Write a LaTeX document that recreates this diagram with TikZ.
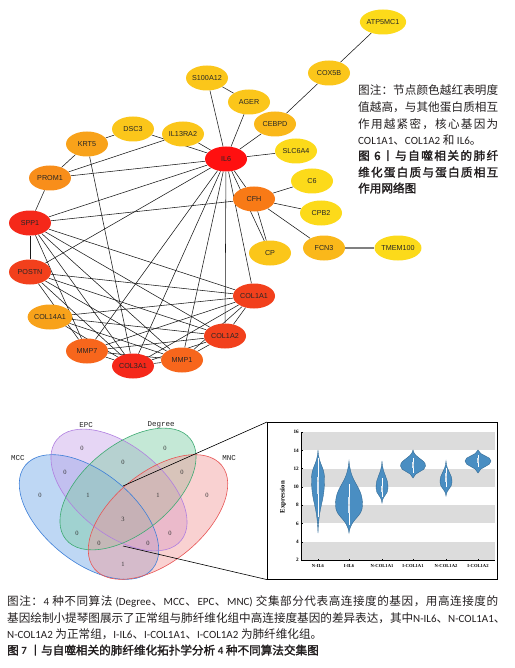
\documentclass[tikz,border=0pt]{standalone}
\usepackage{fontspec}
\usetikzlibrary{shapes.geometric}
\setmainfont{Liberation Sans}
\newfontfamily\cjk{Noto Sans CJK SC}[AutoFakeBold=2]
\newfontfamily\calfont{Carlito}
\newfontfamily\tnr{Liberation Serif}
\newfontfamily\vmono{Liberation Mono}
\definecolor{txt}{HTML}{231F20}
\definecolor{cA}{HTML}{FF1010}
\definecolor{cB}{HTML}{F5281A}
\definecolor{cC}{HTML}{F2401C}
\definecolor{cD}{HTML}{F7661C}
\definecolor{cE}{HTML}{F87A16}
\definecolor{cF}{HTML}{F88E1A}
\definecolor{cG}{HTML}{F8A21A}
\definecolor{cH}{HTML}{FAB81A}
\definecolor{cI}{HTML}{FBC61A}
\definecolor{cJ}{HTML}{FCDA1A}
\definecolor{mccF}{HTML}{6FA8E8}\definecolor{mccD}{HTML}{3D7FD8}
\definecolor{epcF}{HTML}{C9A6EA}\definecolor{epcD}{HTML}{B07FE0}
\definecolor{degF}{HTML}{7DCCA5}\definecolor{degD}{HTML}{3DAA72}
\definecolor{mncF}{HTML}{F29A9A}\definecolor{mncD}{HTML}{E85555}
\definecolor{vfill}{HTML}{4A8EC2}
\definecolor{vline}{HTML}{2E6690}
\definecolor{band}{HTML}{DCDCDC}
\pgfdeclarelayer{bg}
\pgfsetlayers{bg,main}
\makeatletter
\newcommand\jline[2]{\hbox to #1{\jl@first#2\relax}}
\def\jl@first#1{#1\jl@next}
\def\jl@next#1{\ifx\relax#1\else\hfil#1\expandafter\jl@next\fi}
\makeatother
\newcommand\lat[1]{{\calfont\fontsize{11}{12}\selectfont #1}}
\newcommand\violin[5]{%
  \filldraw[fill=vfill, draw=vline, line width=0.35pt]
   (#1,#2) .. controls ({#1+0.15*#5},{#2+0.55*(#3-#2)}) and ({#1+#5},{#3-0.45*(#3-#2)}) .. ({#1+#5},#3)
   .. controls ({#1+#5},{#3+0.45*(#4-#3)}) and ({#1+0.15*#5},{#4-0.55*(#4-#3)}) .. (#1,#4)
   .. controls ({#1-0.15*#5},{#4-0.55*(#4-#3)}) and ({#1-#5},{#3+0.45*(#4-#3)}) .. ({#1-#5},#3)
   .. controls ({#1-#5},{#3-0.45*(#3-#2)}) and ({#1-0.15*#5},{#2+0.55*(#3-#2)}) .. cycle;}
\newcommand\vinner[6]{%
  \draw[white, line width=0.5pt] (#1,#2) -- (#1,#3);
  \fill[white!80!vfill] ({#1-1.4},#5) rectangle ({#1+1.4},#4);
  \fill[gray!70] (#1,#6) circle (0.7);}
\begin{document}
\begin{tikzpicture}[x=1pt,y=-1pt,
  gene/.style={ellipse, minimum width=42pt, minimum height=25pt, inner sep=0pt,
    font=\fontsize{7.2}{8}\selectfont, text=black!85},
  edge/.style={line width=0.55pt, black!90},
  vnum/.style={font=\tnr\fontsize{6.5}{7}\selectfont, text=black!80},
  vlab/.style={font=\vmono\fontsize{7.5}{8}\selectfont, text=black!85},
  captext/.style={inner sep=0pt, anchor=base west, text=txt, font=\cjk\fontsize{11.6}{14}\selectfont},
  capbold/.style={captext, font=\cjk\bfseries\fontsize{11.6}{14}\selectfont},
  ticklab/.style={font=\tnr\bfseries\fontsize{4.6}{5}\selectfont, inner sep=0.5pt},
  ylab/.style={font=\tnr\bfseries\fontsize{5.2}{6}\selectfont, inner sep=0.5pt}]
\begin{pgfonlayer}{bg}
\fill[white] (0,0) rectangle (514,668);
\end{pgfonlayer}
\useasboundingbox (0,0) rectangle (514,668);

% ---------------- network nodes
\node[gene, fill=cJ] (atp) at (383,22) {ATP5MC1};
\node[gene, fill=cI] (cox) at (329,73) {COX5B};
\node[gene, fill=cI] (s100) at (207,78) {S100A12};
\node[gene, fill=cI] (ager) at (249,102) {AGER};
\node[gene, fill=cH] (cebpd) at (275,124) {CEBPD};
\node[gene, fill=cI] (il13) at (183,134) {IL13RA2};
\node[gene, fill=cI] (dsc3) at (133,129) {DSC3};
\node[gene, fill=cG] (krt5) at (87,144) {KRT5};
\node[gene, fill=cA] (il6) at (226,159) {IL6};
\node[gene, fill=cJ] (slc) at (296,151) {SLC6A4};
\node[gene, fill=cF] (prom1) at (50,178) {PROM1};
\node[gene, fill=cJ] (c6) at (312,181) {C6};
\node[gene, fill=cE] (cfh) at (254,199) {CFH};
\node[gene, fill=cJ] (cpb2) at (321,213) {CPB2};
\node[gene, fill=cB] (spp1) at (30,223) {SPP1};
\node[gene, fill=cI] (cp) at (270,253) {CP};
\node[gene, fill=cH] (fcn3) at (324,248) {FCN3};
\node[gene, fill=cJ] (tmem) at (398,248) {TMEM100};
\node[gene, fill=cC] (postn) at (30,272) {POSTN};
\node[gene, fill=cC] (col1a1) at (254,296) {COL1A1};
\node[gene, fill=cG] (col14) at (50,317) {COL14A1};
\node[gene, fill=cC] (col1a2) at (225,336) {COL1A2};
\node[gene, fill=cD] (mmp7) at (87,351) {MMP7};
\node[gene, fill=cD] (mmp1) at (182,360) {MMP1};
\node[gene, fill=cB] (col3a1) at (133,366) {COL3A1};

\begin{pgfonlayer}{bg}
\foreach \a/\b in {atp/cox, cox/cebpd, cebpd/il6, ager/s100, ager/il6, s100/il6, slc/il6,
  il13/il6, dsc3/il6, dsc3/krt5, il13/prom1, krt5/prom1, krt5/col3a1, prom1/il6, prom1/spp1,
  spp1/il6, spp1/cfh, spp1/postn, il6/cfh, il6/cp, cfh/cp, cfh/c6, cfh/cpb2, cfh/fcn3,
  il6/col1a1, il6/col1a2, il6/mmp1, il6/col3a1, il6/mmp7, il6/postn,
  spp1/mmp7, spp1/col3a1, spp1/mmp1, spp1/col1a2, spp1/col1a1,
  postn/mmp7, postn/col3a1, postn/mmp1, postn/col1a2, postn/col1a1,
  col14/col1a1, col14/col1a2, col14/col3a1, col14/mmp1,
  mmp7/col3a1, mmp7/col1a1, mmp7/col1a2, mmp7/mmp1,
  col3a1/mmp1, col3a1/col1a2, col3a1/col1a1,
  mmp1/col1a2, mmp1/col1a1, col1a2/col1a1}
  \draw[edge] (\a) -- (\b);
\draw[gray, line width=1.3pt] (fcn3) -- (tmem);
\end{pgfonlayer}

% ---------------- right caption
\node[captext] (r1) at (358,95) {\jline{140pt}{图注：节点颜色越红表明度}};
\node[captext] (r2) at (358,111.7) {\jline{140pt}{值越高，与其他蛋白质相互}};
\node[captext] (r3) at (358,128.6) {\jline{140pt}{作用越紧密，核心基因为}};
\node[captext] (r4) at (358,144.3) {\lat{COL1A1}、\lat{COL1A2} 和 \lat{IL6}。};
\node[capbold] (r5) at (358,160) {\jline{140pt}{图\lat{6}丨与自噬相关的肺纤}};
\node[capbold] (r6) at (358,176.6) {\jline{140pt}{维化蛋白质与蛋白质相互}};
\node[capbold] (r7) at (358,192.5) {作用网络图};

% ---------------- Venn
\fill[mccF, opacity=.45, rotate around={-39:(89,517)}] (89,517) ellipse [x radius=82, y radius=45];
\fill[epcF, opacity=.45, rotate around={-39:(119,490)}] (119,490) ellipse [x radius=80, y radius=44];
\fill[degF, opacity=.45, rotate around={39:(128,489)}] (128,489) ellipse [x radius=80, y radius=44];
\fill[mncF, opacity=.45, rotate around={39:(158,517)}] (158,517) ellipse [x radius=82, y radius=45];
\draw[mccD, line width=0.6pt, rotate around={-39:(89,517)}] (89,517) ellipse [x radius=82, y radius=45];
\draw[epcD, line width=0.6pt, rotate around={-39:(119,490)}] (119,490) ellipse [x radius=80, y radius=44];
\draw[degD, line width=0.6pt, rotate around={39:(128,489)}] (128,489) ellipse [x radius=80, y radius=44];
\draw[mncD, line width=0.6pt, rotate around={39:(158,517)}] (158,517) ellipse [x radius=82, y radius=45];
\node[vlab] (lmcc) at (18,458) {MCC};
\node[vlab] (lepc) at (86,425) {EPC};
\node[vlab] (ldeg) at (161,425) {Degree};
\node[vlab] (lmnc) at (229,458) {MNC};
\node[vnum] (n1) at (82,448) {0};
\node[vnum] (n2) at (165,448) {0};
\node[vnum] (n3) at (123,462) {0};
\node[vnum] (n4) at (65,472) {0};
\node[vnum] (n5) at (182,472) {0};
\node[vnum] (n6) at (40,495) {0};
\node[vnum] (n7) at (88,495) {1};
\node[vnum] (n8) at (158,495) {1};
\node[vnum] (n9) at (207,495) {0};
\node[vnum] (n10) at (123,519) {3};
\node[vnum] (n11) at (77,533) {0};
\node[vnum] (n12) at (170,533) {0};
\node[vnum] (n13) at (99,543) {0};
\node[vnum] (n14) at (148,543) {0};
\node[vnum] (n15) at (123,564) {1};

\coordinate (v1) at (123,486);
\coordinate (v2) at (123,546);
\node[draw, line width=0.6pt, minimum width=230pt, minimum height=157pt, anchor=north west, inner sep=0pt] (box) at (267,422) {};
\draw[line width=0.6pt] (v1) -- (box.north west);
\draw[line width=0.6pt] (v2) -- (box.south west);

% ---------------- violin plot
\fill[band] (301,432) rectangle (495,450.3);
\fill[band] (301,468.6) rectangle (495,486.9);
\fill[band] (301,505.1) rectangle (495,523.4);
\fill[band] (301,541.7) rectangle (495,560);
\draw[line width=0.4pt] (301,432) -- (301,560) -- (495,560);
\foreach \v in {2,4,...,16} {
  \draw[line width=0.3pt] (301,{560-(\v-2)*9.1429}) -- (302.8,{560-(\v-2)*9.1429});
  \node[ylab, anchor=east] at (299.5,{560-(\v-2)*9.1429}) {\v};
}
\foreach \v in {3,5,...,15}
  \draw[line width=0.3pt] (301,{560-(\v-2)*9.1429}) -- (302,{560-(\v-2)*9.1429});
\node[rotate=90, font=\tnr\bfseries\fontsize{6.8}{7}\selectfont] (ytitle) at (283,497) {Expression};
\foreach \x/\l in {318/N-IL6, 349/I-IL6, 382/N-COL1A1, 413/I-COL1A1, 446/N-COL1A2, 478/I-COL1A2} {
  \draw[line width=0.3pt] (\x,560) -- (\x,558.5);
  \node[ticklab] at (\x,565.5) {\l};
}
\violin{318}{450}{479}{533}{6.5}
\vinner{318}{458}{517}{494}{477}{481}
\violin{349}{461}{505}{533}{13.5}
\vinner{349}{484}{525}{513}{497}{505}
\violin{382}{461}{488}{503}{6}
\vinner{382}{478}{497}{492}{486}{489}
\violin{413}{450}{466}{478}{12.5}
\vinner{413}{458}{473}{468}{462}{465}
\violin{446}{461}{482}{496}{6}
\vinner{446}{468}{487}{482}{473}{477}
\violin{478}{450}{461}{473}{13}
\vinner{478}{455}{467}{463}{458}{461}

% ---------------- bottom caption
\node[captext] (b1) at (7,605) {\jline{491pt}{图注：{\lat{4}\ }种不同算法{\ \lat{(Degree}}、{\lat{MCC}}、{\lat{EPC}}、{\lat{MNC)}\ }交集部分代表高连接度的基因，用高连接度的}};
\node[captext] (b2) at (7,622) {基因绘制小提琴图展示了正常组与肺纤维化组中高连接度基因的差异表达，其中\lat{N-IL6}、\lat{N-COL1A1}、};
\node[captext] (b3) at (7,638.3) {\lat{N-COL1A2} 为正常组，\lat{I-IL6}、\lat{I-COL1A1}、\lat{I-COL1A2} 为肺纤维化组。};
\node[capbold] (b4) at (7,654.5) {图 \lat{7} 丨与自噬相关的肺纤维化拓扑学分析 \lat{4} 种不同算法交集图};
\end{tikzpicture}
\end{document}
